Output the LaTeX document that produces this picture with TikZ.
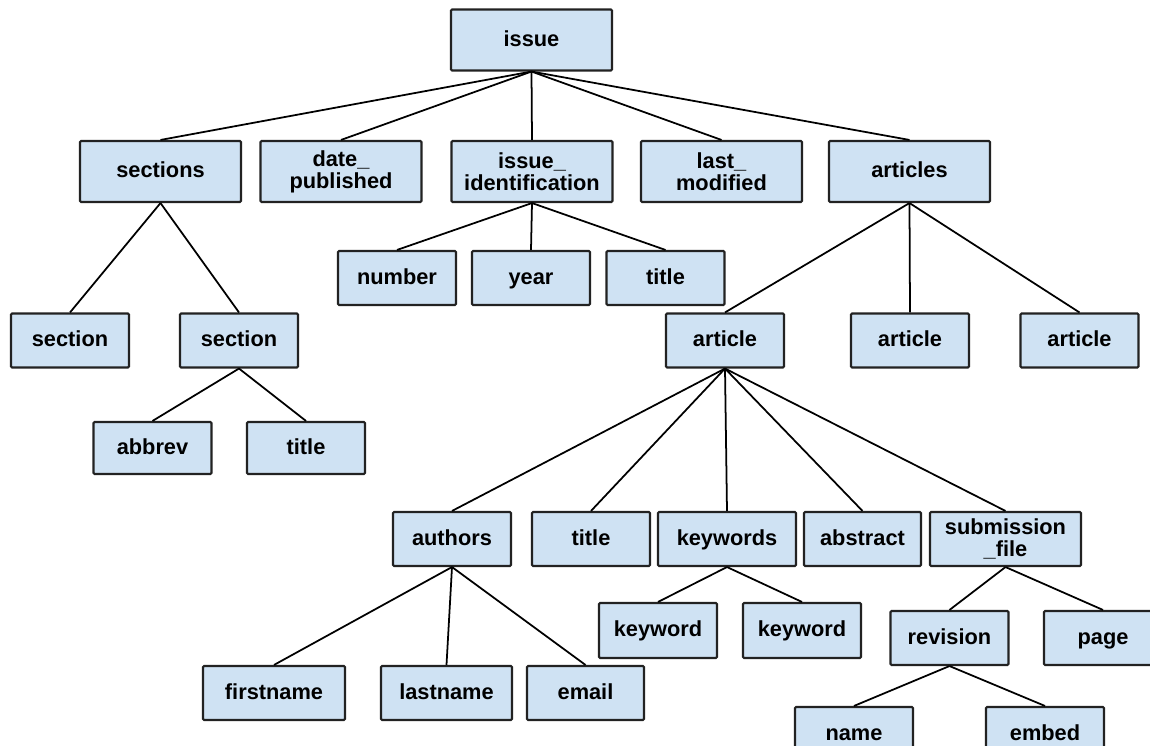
\documentclass[tikz,border=0pt]{standalone}
\usepackage{fontspec}
\setmainfont{Liberation Sans}
\definecolor{boxblue}{HTML}{CFE2F3}
\definecolor{edgegray}{HTML}{222222}

\begin{document}
\begin{tikzpicture}[x=0.02cm, y=-0.02cm,
  box/.style={draw=edgegray, fill=boxblue, line width=1.2pt, rounded corners=0.6pt,
    minimum width=2.36cm, minimum height=1.08cm, inner sep=0pt, align=center,
    font=\fontsize{12.4pt}{12.6pt}\selectfont\bfseries},
  evenline/.style={text height=0.905em, text depth=0.212em},
  oneline/.style={box, evenline},
  topbox/.style={box, minimum width=3.22cm, minimum height=1.22cm},
  link/.style={line width=1pt, black}]
  \clip (0,0) rectangle (1150,746);
  % -=-=-=-=- ROOT AND FIRST LEVEL -=-=-=-=-
  \node[topbox, evenline] (issue) at (531.5,40) {issue};
  \node[topbox, evenline] (sections) at (160.5,171.5) {sections};
  \node[topbox] (date) at (341,171.5) {date\_\\published};
  \node[topbox] (issueid) at (532,171.5) {issue\_\\identification};
  \node[topbox] (lastmod) at (721.5,171.5) {last\_\\modified};
  \node[topbox, evenline] (articles) at (909.5,171.5) {articles};
  % -=-=-=-=- SECTIONS -=-=-=-=-
  \node[oneline] (secA) at (70,340.5) {section};
  \node[oneline] (secB) at (239,340.5) {section};
  \node[oneline, minimum height=1.04cm] (abbrev) at (152.5,448) {abbrev};
  \node[oneline, minimum height=1.04cm] (sectitle) at (306,448) {title};
  % -=-=-=-=- ISSUE IDENTIFICATION -=-=-=-=-
  \node[oneline] (number) at (397,278) {number};
  \node[oneline] (year) at (531,278) {year};
  \node[oneline] (idtitle) at (665.5,278) {title};
  % -=-=-=-=- ARTICLES -=-=-=-=-
  \node[oneline] (artA) at (725,340.5) {article};
  \node[oneline] (artB) at (910,340.5) {article};
  \node[oneline] (artC) at (1079.5,340.5) {article};
  \node[oneline] (authors) at (452,539) {authors};
  \node[oneline] (arttitle) at (591,539) {title};
  \node[oneline, minimum width=2.76cm] (keywords) at (727,539) {keywords};
  \node[oneline, minimum width=2.34cm] (abstract) at (862.5,539) {abstract};
  \node[box, minimum width=3.02cm] (subfile) at (1005.5,539) {submission\\\_file};
  \node[oneline, minimum height=1.1cm] (kwA) at (658,630.5) {keyword};
  \node[oneline, minimum height=1.1cm] (kwB) at (802,630.5) {keyword};
  \node[oneline] (revision) at (949.5,638) {revision};
  \node[oneline] (page) at (1103,638) {page};
  \node[oneline, minimum width=2.84cm] (first) at (274,693) {firstname};
  \node[oneline, minimum width=2.62cm] (last) at (446.5,693) {lastname};
  \node[oneline, minimum width=2.34cm] (email) at (585.5,693) {email};
  \node[oneline] (name) at (854,734) {name};
  \node[oneline] (embed) at (1045,734) {embed};
  % -=-=-=-=- CONNECTORS -=-=-=-=-
  \draw[link] (issue.south) -- (sections.north);
  \draw[link] (issue.south) -- (date.north);
  \draw[link] (issue.south) -- (issueid.north);
  \draw[link] (issue.south) -- (lastmod.north);
  \draw[link] (issue.south) -- (articles.north);
  \draw[link] (sections.south) -- (secA.north);
  \draw[link] (sections.south) -- (secB.north);
  \draw[link] (secB.south) -- (abbrev.north);
  \draw[link] (secB.south) -- (sectitle.north);
  \draw[link] (issueid.south) -- (number.north);
  \draw[link] (issueid.south) -- (year.north);
  \draw[link] (issueid.south) -- (idtitle.north);
  \draw[link] (articles.south) -- (artA.north);
  \draw[link] (articles.south) -- (artB.north);
  \draw[link] (articles.south) -- (artC.north);
  \draw[link] (artA.south) -- (authors.north);
  \draw[link] (artA.south) -- (arttitle.north);
  \draw[link] (artA.south) -- (keywords.north);
  \draw[link] (artA.south) -- (abstract.north);
  \draw[link] (artA.south) -- (subfile.north);
  \draw[link] (authors.south) -- (first.north);
  \draw[link] (authors.south) -- (last.north);
  \draw[link] (authors.south) -- (email.north);
  \draw[link] (keywords.south) -- (kwA.north);
  \draw[link] (keywords.south) -- (kwB.north);
  \draw[link] (subfile.south) -- (revision.north);
  \draw[link] (subfile.south) -- (page.north);
  \draw[link] (revision.south) -- (name.north);
  \draw[link] (revision.south) -- (embed.north);
\end{tikzpicture}
\end{document}
